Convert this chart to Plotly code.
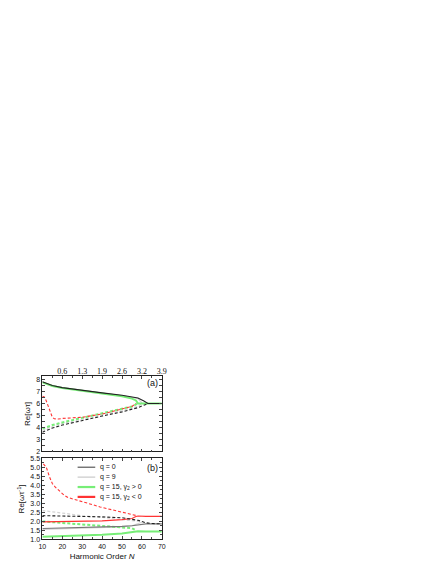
import plotly.graph_objects as go

# ---- data ----
# panel (a): Re[w]
N_a_q0 = [10, 15, 20, 30, 40, 50, 55, 58, 61, 63, 66, 70]
up_a_q0 = [7.8, 7.5, 7.32, 7.08, 6.88, 6.68, 6.55, 6.45, 6.2, 6.0, 6.0, 6.0]
N_a_q0d = [10, 15, 20, 30, 40, 50, 55, 58, 61, 63]
lo_a_q0 = [3.6, 3.95, 4.2, 4.6, 4.95, 5.3, 5.5, 5.65, 5.85, 6.0]

N_a_q9 = [10, 15, 20, 30, 40, 50, 55, 58, 60]
up_a_q9 = [7.79, 7.49, 7.31, 7.07, 6.87, 6.66, 6.52, 6.4, 6.05]
lo_a_q9 = [3.75, 4.1, 4.33, 4.72, 5.05, 5.4, 5.6, 5.75, 6.0]

N_a_g = [10, 15, 20, 30, 40, 50, 55, 57, 58, 62, 66, 70]
up_a_g = [7.75, 7.45, 7.28, 7.04, 6.84, 6.6, 6.4, 6.25, 6.0, 6.0, 6.0, 6.0]
N_a_gd = [10, 15, 20, 30, 40, 50, 55, 58]
lo_a_g = [3.9, 4.2, 4.42, 4.8, 5.12, 5.5, 5.75, 6.0]

N_a_r = [10, 11, 12, 13, 14, 15, 16, 18, 20, 30, 40, 50, 55, 57]
lo_a_r = [6.6, 6.55, 6.2, 5.7, 5.2, 4.85, 4.72, 4.7, 4.75, 4.85, 5.12, 5.5, 5.75, 6.0]

# panel (b): Re[w^-1]
N_b = [10, 20, 30, 40, 50, 55, 57, 58, 60, 62, 65, 70]
sol_b_q0 = [1.6, 1.62, 1.64, 1.67, 1.72, 1.76, 1.79, 1.8, 1.83, 1.86, 1.86, 1.86]
das_b_q0 = [2.32, 2.31, 2.29, 2.25, 2.2, 2.13, 2.09, 2.06, 2.0, 1.92, 1.88, 1.86]
N_b_q9 = [10, 20, 30, 40, 50, 55, 58, 60]
das_b_q9 = [2.6, 2.45, 2.32, 2.22, 2.12, 2.06, 2.02, 1.98]
sol_b_q9 = [1.55, 1.58, 1.6, 1.64, 1.7, 1.76, 1.85, 1.95]
N_b_g = [10, 20, 30, 40, 50, 55, 57, 58, 62, 66, 70]
sol_b_g = [1.15, 1.17, 1.2, 1.25, 1.33, 1.4, 1.46, 1.45, 1.44, 1.44, 1.44]
N_b_gd = [10, 20, 30, 40, 50, 55, 57]
das_b_g = [2.0, 1.92, 1.85, 1.78, 1.7, 1.62, 1.5]
N_b_r = [10, 20, 30, 40, 50, 55, 57, 58, 62, 66, 70]
sol_b_r = [1.97, 1.98, 2.0, 2.03, 2.1, 2.16, 2.27, 2.3, 2.28, 2.28, 2.28]
N_b_rd = [10.5, 12, 13.5, 15, 16.5, 18.5, 21, 23, 28, 33, 39, 45, 50, 55, 57]
das_b_r = [5.2, 5.0, 4.5, 4.1, 3.9, 3.68, 3.45, 3.32, 3.14, 3.0, 2.8, 2.65, 2.52, 2.4, 2.33]

top_vals = [20, 30, 40, 50, 60, 70]
top_text = ["0.6", "1.3", "1.9", "2.6", "3.2", "3.9"]

legend_names = ["q = 0", "q = 9", "q = 15, \u03b3<sub>2</sub> > 0", "q = 15, \u03b3<sub>2</sub> < 0"]

BLACK = "#222222"
DGRAY = "#777777"
LGRAY = "#d4d4d4"
GREEN = "#77ee77"
RED = "#ff3333"
DASH = "3px,2px"

fig = go.Figure()


def line(x, y, color, dash="solid", width=1.0, xa="x", ya="y"):
    fig.add_trace(go.Scatter(x=x, y=y, mode="lines", xaxis=xa, yaxis=ya,
                             line=dict(color=color, dash=dash, width=width),
                             showlegend=False, hoverinfo="skip"))


# panel (a)
line(N_a_q9, up_a_q9, LGRAY, width=1.2)
line(N_a_q9, lo_a_q9, LGRAY, DASH, 1.2)
line(N_a_g, up_a_g, GREEN, width=2)
line(N_a_gd, lo_a_g, GREEN, DASH, 2)
line(N_a_r, lo_a_r, RED, DASH, 1.1)
line(N_a_q0, up_a_q0, BLACK, width=1.1)
line(N_a_q0d, lo_a_q0, BLACK, DASH, 1.1)

# panel (b)
line(N_b_q9, das_b_q9, LGRAY, DASH, 1.2, "x2", "y2")
line(N_b_q9, sol_b_q9, LGRAY, width=1.2, xa="x2", ya="y2")
line(N_b_g, sol_b_g, GREEN, width=2, xa="x2", ya="y2")
line(N_b_gd, das_b_g, GREEN, DASH, 2, "x2", "y2")
line(N_b_r, sol_b_r, RED, width=1.1, xa="x2", ya="y2")
line(N_b_rd, das_b_r, RED, DASH, 1.1, "x2", "y2")
line(N_b, sol_b_q0, DGRAY, width=1.1, xa="x2", ya="y2")
line(N_b, das_b_q0, BLACK, DASH, 1.1, "x2", "y2")

xd = [31 / 436, 153 / 436]
ya_dom = [1 - 445 / 564, 1 - 369 / 564]
yb_dom = [1 - 534 / 564, 1 - 452 / 564]
FONT = "Liberation Sans, Arial"
tickfont = dict(family=FONT, size=7, color="#111")
common = dict(ticks="inside", ticklen=3, tickwidth=0.8, showline=True, linecolor="#222",
              linewidth=0.8, mirror="allticks", showgrid=False, zeroline=False, tickfont=tickfont)

# hand-drawn legend (compact, as in the reference)
shapes = []
annotations = []
leg_x0, leg_x1, leg_text_x = 67 / 436, 85 / 436, 88 / 436
leg_y = [461, 471, 481, 491]
for name, col, w, yy in zip(legend_names, [DGRAY, LGRAY, GREEN, RED], [1.5, 1.5, 2.2, 2.2], leg_y):
    yp = 1 - yy / 564
    shapes.append(dict(type="line", xref="paper", yref="paper", x0=leg_x0, x1=leg_x1,
                       y0=yp, y1=yp, line=dict(color=col, width=w)))
    annotations.append(dict(text=name, x=leg_text_x, y=yp, xref="paper", yref="paper",
                            xanchor="left", yanchor="middle", showarrow=False,
                            font=dict(family=FONT, size=7, color="#111")))

annotations += [
    dict(text="(a)", x=0.347, y=1 - 376 / 564, xref="paper", yref="paper",
         xanchor="right", yanchor="middle", showarrow=False, font=dict(family=FONT, size=9)),
    dict(text="(b)", x=0.347, y=1 - 462 / 564, xref="paper", yref="paper",
         xanchor="right", yanchor="middle", showarrow=False, font=dict(family=FONT, size=9)),
]

fig.update_layout(
    width=436, height=564, margin=dict(l=0, r=0, t=0, b=0),
    paper_bgcolor="white", plot_bgcolor="white", showlegend=False,
    font=dict(family=FONT, size=7, color="#111"),
    xaxis=dict(domain=xd, anchor="y", range=[10, 70], dtick=10, showticklabels=False,
               minor=dict(ticks="inside", ticklen=2, dtick=5, tick0=10), **common),
    yaxis=dict(domain=ya_dom, anchor="x", range=[2, 8.25], dtick=1,
               minor=dict(ticks="inside", ticklen=2, dtick=0.5),
               title=dict(text="Re[\u03c9\u03c4]", font=dict(size=8), standoff=4), **common),
    xaxis3=dict(overlaying="x", side="top", anchor="y", range=[10, 70], tickmode="array",
                tickvals=top_vals, ticktext=top_text, ticks="", showline=False,
                showgrid=False, zeroline=False,
                tickfont=dict(family="Liberation Serif, Times New Roman", size=8, color="#111")),
    xaxis2=dict(domain=xd, anchor="y2", range=[10, 70], dtick=10,
                minor=dict(ticks="inside", ticklen=2, dtick=5, tick0=10),
                title=dict(text="Harmonic Order <i>N</i>", font=dict(size=8), standoff=4), **common),
    yaxis2=dict(domain=yb_dom, anchor="x2", range=[1, 5.5], dtick=0.5, tickformat=".1f",
                minor=dict(ticks="inside", ticklen=2, dtick=0.25),
                title=dict(text="Re[\u03c9\u03c4<sup>-1</sup>]", font=dict(size=8), standoff=4), **common),
    shapes=shapes,
    annotations=annotations,
)
# dummy trace so the top axis is rendered
fig.add_trace(go.Scatter(x=[10, 70], y=[None, None], xaxis="x3", yaxis="y",
                         showlegend=False, hoverinfo="skip"))

fig.write_html("out.html")
